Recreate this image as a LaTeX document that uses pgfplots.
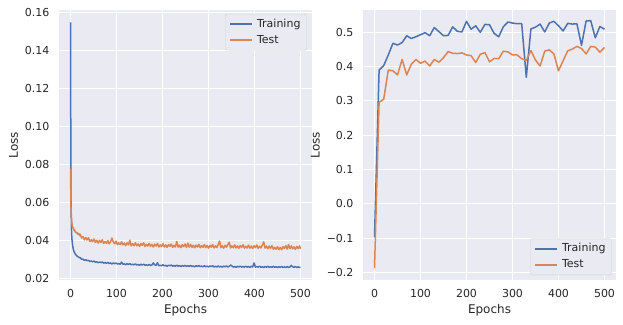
\documentclass[border=0pt]{standalone}
\usepackage{fontspec}
\setmainfont{DejaVu Sans}
\usepackage{pgfplots}
\usepackage{pgfplotstable}
\pgfplotsset{compat=1.18}
\definecolor{sbblue}{HTML}{4C72B0}
\definecolor{sborange}{HTML}{DD8452}
\definecolor{sbbg}{HTML}{EAEAF2}
\definecolor{sbtext}{HTML}{262626}

\pgfplotstableread{
e T V
0 0.155 0.0778
1 0.062 0.058
2 0.046 0.052
3 0.041 0.049
4 0.0385 0.0475
5 0.0368 0.0465
6 0.0355 0.0468
7 0.0346 0.0458
8 0.0340 0.0452
9 0.0335 0.0455
10 0.0330 0.0446
12 0.0323 0.0440
14 0.0318 0.0443
16 0.0314 0.0432
18 0.0311 0.0436
20 0.0308 0.0425
21 0.0309 0.0433
24 0.0301 0.0413
27 0.0301 0.0420
30 0.0295 0.0403
33 0.0298 0.0415
36 0.0293 0.0402
39 0.0295 0.0414
42 0.0289 0.0394
45 0.0291 0.0403
48 0.0287 0.0393
51 0.0291 0.0407
54 0.0285 0.0390
57 0.0287 0.0400
60 0.0282 0.0386
63 0.0286 0.0400
66 0.0283 0.0389
69 0.0286 0.0403
72 0.0280 0.0384
75 0.0283 0.0394
78 0.0279 0.0384
81 0.0284 0.0399
84 0.0278 0.0382
87 0.0281 0.0392
90 0.0276 0.0412
93 0.0281 0.0393
96 0.0277 0.0382
99 0.0281 0.0396
102 0.0275 0.0377
105 0.0278 0.0387
108 0.0274 0.0378
111 0.0285 0.0392
114 0.0274 0.0376
117 0.0276 0.0386
120 0.0272 0.0372
123 0.0277 0.0387
126 0.0273 0.0376
129 0.0277 0.0401
132 0.0272 0.0371
135 0.0274 0.0382
138 0.0271 0.0372
141 0.0276 0.0387
144 0.0270 0.0371
147 0.0273 0.0381
150 0.0269 0.0368
153 0.0274 0.0383
156 0.0270 0.0373
159 0.0274 0.0387
162 0.0269 0.0368
165 0.0271 0.0379
168 0.0268 0.0370
171 0.0273 0.0384
174 0.0268 0.0368
177 0.0270 0.0379
180 0.0281 0.0365
183 0.0271 0.0380
186 0.0268 0.0370
189 0.0282 0.0384
192 0.0266 0.0365
195 0.0269 0.0376
198 0.0266 0.0367
201 0.0271 0.0382
204 0.0266 0.0365
207 0.0268 0.0376
210 0.0264 0.0363
213 0.0269 0.0378
216 0.0266 0.0368
219 0.0270 0.0381
222 0.0264 0.0363
225 0.0267 0.0374
228 0.0264 0.0365
231 0.0269 0.0394
234 0.0264 0.0364
237 0.0267 0.0375
240 0.0262 0.0362
243 0.0267 0.0377
246 0.0264 0.0367
249 0.0268 0.0381
252 0.0263 0.0363
255 0.0266 0.0385
258 0.0263 0.0364
261 0.0268 0.0379
264 0.0262 0.0363
267 0.0265 0.0374
270 0.0261 0.0361
273 0.0266 0.0375
276 0.0263 0.0365
279 0.0267 0.0379
282 0.0262 0.0361
285 0.0264 0.0372
288 0.0261 0.0363
291 0.0266 0.0378
294 0.0261 0.0362
297 0.0264 0.0373
300 0.0260 0.0359
303 0.0265 0.0374
306 0.0262 0.0364
309 0.0266 0.0378
312 0.0260 0.0360
315 0.0263 0.0371
318 0.0260 0.0362
321 0.0265 0.0377
324 0.0260 0.0397
327 0.0263 0.0361
330 0.0259 0.0372
333 0.0264 0.0359
336 0.0261 0.0374
339 0.0265 0.0364
342 0.0260 0.0378
345 0.0263 0.0390
348 0.0270 0.0360
351 0.0265 0.0371
354 0.0259 0.0361
357 0.0262 0.0376
360 0.0258 0.0360
363 0.0263 0.0371
366 0.0260 0.0358
369 0.0264 0.0373
372 0.0259 0.0363
375 0.0262 0.0377
378 0.0259 0.0359
381 0.0264 0.0369
384 0.0259 0.0360
387 0.0262 0.0375
390 0.0258 0.0359
393 0.0263 0.0370
396 0.0260 0.0357
399 0.0281 0.0372
402 0.0259 0.0362
405 0.0262 0.0376
408 0.0259 0.0358
411 0.0264 0.0369
414 0.0258 0.0360
417 0.0261 0.0375
420 0.0257 0.0392
423 0.0262 0.0359
426 0.0259 0.0370
429 0.0263 0.0356
432 0.0258 0.0370
435 0.0261 0.0359
438 0.0258 0.0372
441 0.0263 0.0353
444 0.0258 0.0363
447 0.0261 0.0353
450 0.0257 0.0367
453 0.0261 0.0351
456 0.0258 0.0363
459 0.0262 0.0351
462 0.0257 0.0367
465 0.0260 0.0357
468 0.0257 0.0372
471 0.0262 0.0354
474 0.0257 0.0378
477 0.0260 0.0356
480 0.0268 0.0371
483 0.0261 0.0355
486 0.0258 0.0366
489 0.0262 0.0353
492 0.0257 0.0368
495 0.0260 0.0357
498 0.0257 0.0371
500 0.0258 0.0356
}\losstable

\pgfplotstableread{
e T V
0 -0.097 -0.187
10 0.390 0.296
20 0.403 0.305
30 0.434 0.390
40 0.468 0.388
50 0.463 0.376
60 0.470 0.421
70 0.490 0.376
80 0.482 0.407
90 0.487 0.421
100 0.493 0.410
110 0.499 0.416
120 0.490 0.402
130 0.514 0.421
140 0.502 0.413
150 0.490 0.426
160 0.491 0.444
170 0.516 0.439
180 0.503 0.438
190 0.501 0.440
200 0.532 0.434
210 0.509 0.432
220 0.519 0.412
230 0.500 0.436
240 0.523 0.441
250 0.522 0.414
260 0.497 0.424
270 0.487 0.423
280 0.516 0.445
290 0.530 0.443
300 0.527 0.434
310 0.525 0.434
320 0.525 0.423
330 0.369 0.418
340 0.510 0.447
350 0.515 0.419
360 0.524 0.402
370 0.501 0.445
380 0.527 0.449
390 0.532 0.437
400 0.519 0.388
410 0.504 0.417
420 0.526 0.446
430 0.524 0.451
440 0.525 0.459
450 0.462 0.453
460 0.533 0.437
470 0.534 0.459
480 0.484 0.457
490 0.517 0.442
500 0.509 0.456
}\acctable

\pgfplotsset{sbstyle/.style={
  scale only axis, width=253pt, height=270pt,
  axis background/.style={fill=sbbg},
  axis line style={draw=none},
  grid=major, major grid style={white, line width=1pt},
  tick style={draw=none},
  xmin=-25, xmax=525,
  xtick={0,100,...,500},
  ticklabel style={font=\fontsize{11}{13}\selectfont, text=sbtext},
  yticklabel style={xshift=-6pt},
  xticklabel style={yshift=-6pt},
  /pgf/number format/assume math mode=true,
  label style={font=\fontsize{12}{14}\selectfont, text=sbtext},
  xlabel=Epochs, ylabel=Loss,
  legend style={font=\fontsize{11}{13}\selectfont, fill=sbbg, draw=black!18,
    rounded corners=2pt, inner xsep=4pt, inner ysep=3pt, row sep=2pt,
    column sep=2pt, text=sbtext,
    nodes={text height=8pt, text depth=2pt, inner ysep=2pt}},
  legend cell align=left,
  legend image code/.code={\draw[#1, line width=1.8pt] (0pt,0pt) -- (22pt,0pt);},
  every axis plot/.append style={line width=1.5pt, line join=round},
}}

\begin{document}
\begin{tikzpicture}
\useasboundingbox (0,0) rectangle (623pt,324pt);
\begin{axis}[sbstyle, at={(59pt,44pt)}, anchor=south west,
  ymin=0.0191, ymax=0.1615,
  ytick={0.02,0.04,0.06,0.08,0.10,0.12,0.14,0.16},
  yticklabels={0.02,0.04,0.06,0.08,0.10,0.12,0.14,0.16},
  xticklabels={0,100,200,300,400,500},
  legend style={at={(0.979,0.985)}, anchor=north east}]
\addplot[sbblue] table[x=e, y=T] {\losstable};
\addlegendentry{Training}
\addplot[sborange] table[x=e, y=V] {\losstable};
\addlegendentry{Test}
\end{axis}
\begin{axis}[sbstyle, at={(363pt,44pt)}, anchor=south west,
  ymin=-0.2215, ymax=0.565,
  ytick={-0.2,-0.1,0,0.1,0.2,0.3,0.4,0.5},
  yticklabels={−0.2,−0.1,0.0,0.1,0.2,0.3,0.4,0.5},
  xticklabels={0,100,200,300,400,500},
  legend style={at={(0.983,0.0185)}, anchor=south east}]
\addplot[sbblue] table[x=e, y=T] {\acctable};
\addlegendentry{Training}
\addplot[sborange] table[x=e, y=V] {\acctable};
\addlegendentry{Test}
\end{axis}
\end{tikzpicture}
\end{document}
